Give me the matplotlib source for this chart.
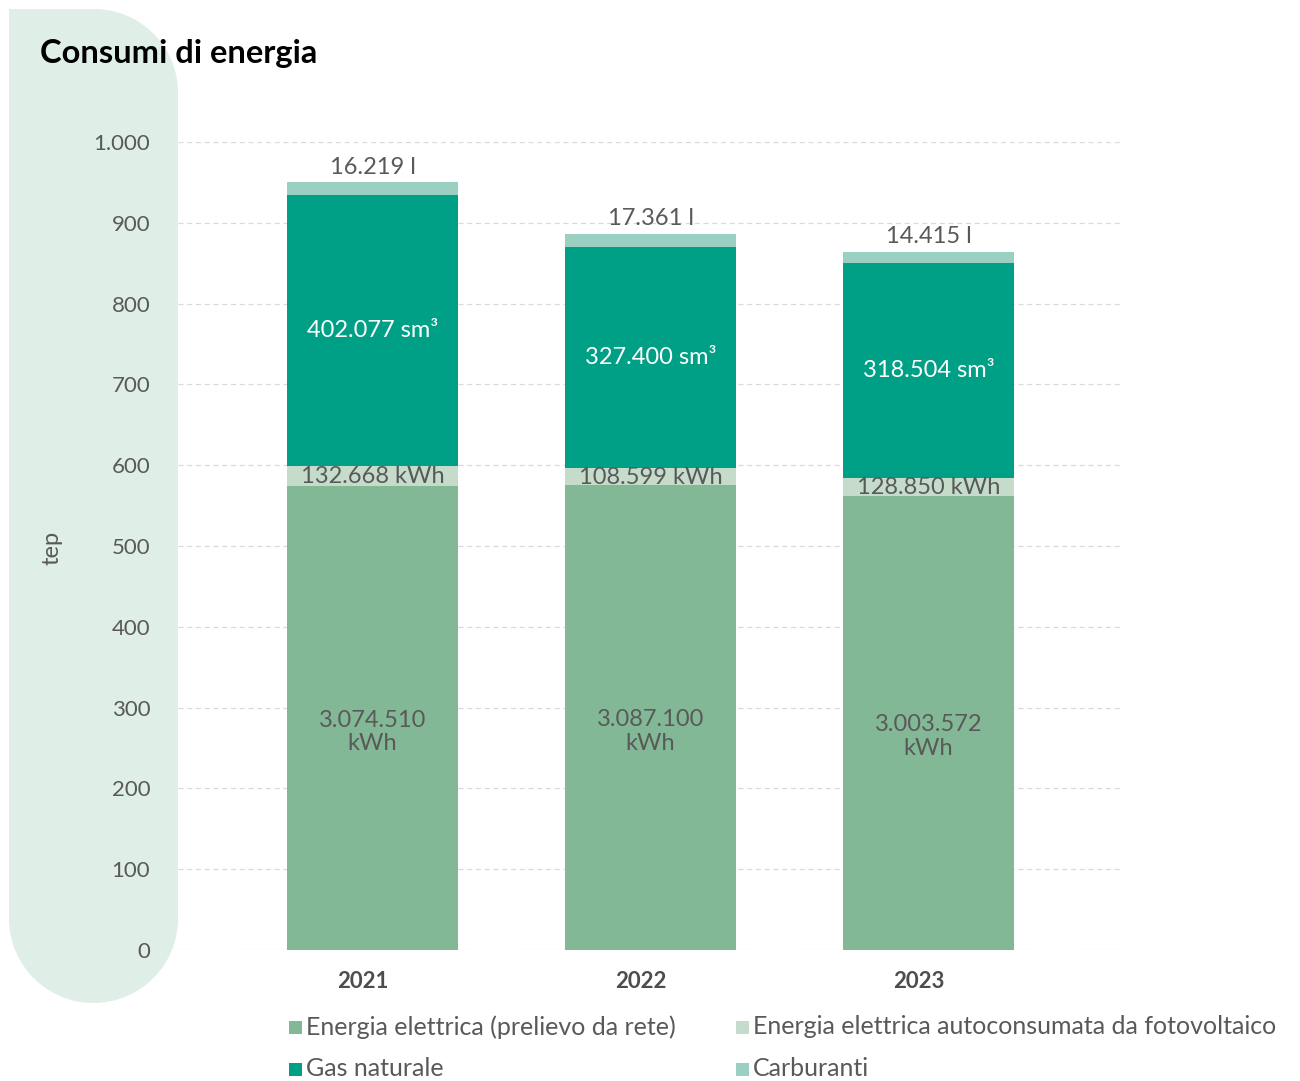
import matplotlib.pyplot as plt
import matplotlib.patches as mpatches
from matplotlib.path import Path
from matplotlib.ticker import FuncFormatter

plt.rcParams['font.family'] = ['Lato', 'DejaVu Sans']

anni = ['2021', '2022', '2023']
elettrica_rete = [574, 575, 562]        # tep
elettrica_fv = [25, 21, 22]
gas_naturale = [335, 274, 266]
carburanti = [16, 16, 14]

etichette_rete = ['3.074.510\nkWh', '3.087.100\nkWh', '3.003.572\nkWh']
etichette_fv = ['132.668 kWh', '108.599 kWh', '128.850 kWh']
etichette_gas = ['402.077 sm³', '327.400 sm³', '318.504 sm³']
etichette_carb = ['16.219 l', '17.361 l', '14.415 l']

serie = ['Energia elettrica (prelievo da rete)', 'Energia elettrica autoconsumata da fotovoltaico',
         'Gas naturale', 'Carburanti']
colori = ['#83b896', '#c5dccb', '#00a086', '#99d0c2']
grigio = '#595959'

W, H = 1300, 1081
fig = plt.figure(figsize=(W / 100, H / 100), dpi=100)

# sfondo verde chiaro con angoli arrotondati (coordinate in pixel, y verso il basso)
def px(x, y):
    return (x / 100, (H - y) / 100)

x0, x1, y0, y1 = 9, 178, 9, 1003
r = 84
k = 0.5523 * r
rb = (x1 - x0) / 2
kb = 0.5523 * rb
verts = [px(x0, y0), px(x1 - r, y0),
         px(x1 - r + k, y0), px(x1, y0 + r - k), px(x1, y0 + r),
         px(x1, y1 - rb),
         px(x1, y1 - rb + kb), px(x0 + rb + kb, y1), px(x0 + rb, y1),
         px(x0 + rb - kb, y1), px(x0, y1 - rb + kb), px(x0, y1 - rb),
         px(x0, y0), px(x0, y0)]
codes = [Path.MOVETO, Path.LINETO,
         Path.CURVE4, Path.CURVE4, Path.CURVE4,
         Path.LINETO,
         Path.CURVE4, Path.CURVE4, Path.CURVE4,
         Path.CURVE4, Path.CURVE4, Path.CURVE4,
         Path.LINETO, Path.CLOSEPOLY]
fig.patches.append(mpatches.PathPatch(Path(verts, codes), transform=fig.dpi_scale_trans,
                                      facecolor='#dfeee7', edgecolor='none', zorder=-10))

ax = fig.add_axes([178 / W, (H - 950) / H, (1122 - 178) / W, (950 - 142) / H])
ax.patch.set_alpha(0)

x = range(len(anni))
w = 0.615
bottom = [0] * 3
for vals, col in zip([elettrica_rete, elettrica_fv, gas_naturale, carburanti], colori):
    ax.bar(x, vals, w, bottom=bottom, color=col, zorder=2)
    bottom = [b + v for b, v in zip(bottom, vals)]

for i in x:
    ax.text(i, elettrica_rete[i] / 2 - 17, etichette_rete[i], ha='center', va='center',
            color=grigio, fontsize=17, linespacing=1.15, zorder=3)
    base = elettrica_rete[i]
    ax.text(i, base + elettrica_fv[i] / 2 - 1, etichette_fv[i], ha='center', va='center',
            color=grigio, fontsize=17, zorder=3)
    base += elettrica_fv[i]
    ax.text(i, base + gas_naturale[i] / 2, etichette_gas[i], ha='center', va='center',
            color='white', fontsize=17, zorder=3)
    base += gas_naturale[i] + carburanti[i]
    ax.text(i, base + 6, etichette_carb[i], ha='center', va='bottom',
            color=grigio, fontsize=17, zorder=3)

ax.set_xlim(-0.7, 2.696)
ax.set_ylim(0, 1000)
ax.set_yticks(range(0, 1001, 100))
ax.yaxis.set_major_formatter(FuncFormatter(lambda v, p: f'{int(v):,}'.replace(',', '.')))
ax.grid(axis='y', color='#d9d9d9', linestyle=(0, (4, 3)), linewidth=0.9, zorder=1)
ax.tick_params(axis='y', length=0, pad=20, labelsize=16, labelcolor=grigio)
ax.set_xticks([i - 0.036 for i in x])
ax.set_xticklabels(anni, fontweight='bold', fontsize=16, color='#4d4d4d')
ax.tick_params(axis='x', length=0, pad=15)
for s in ax.spines.values():
    s.set_visible(False)

fig.text(52 / W, 1 - 548 / H, 'tep', rotation=90, ha='center', va='center',
         color=grigio, fontsize=17)
fig.text(40 / W, 1 - 54 / H, 'Consumi di energia', ha='left', va='center',
         fontweight='bold', fontsize=23.5, color='black')

# legenda a due colonne: quadratino + testo
pos_legenda = [(289, 1027), (736, 1027), (289, 1069), (736, 1069)]
for (lx, ly), nome, col in zip(pos_legenda, serie, colori):
    fig.patches.append(mpatches.Rectangle(px(lx, ly + 7), 0.13, 0.13, transform=fig.dpi_scale_trans,
                                          facecolor=col, edgecolor='none'))
    fig.text((lx + 17) / W, 1 - ly / H, nome, ha='left', va='center',
             color=grigio, fontsize=18)

fig.savefig('out.png', dpi=100)
